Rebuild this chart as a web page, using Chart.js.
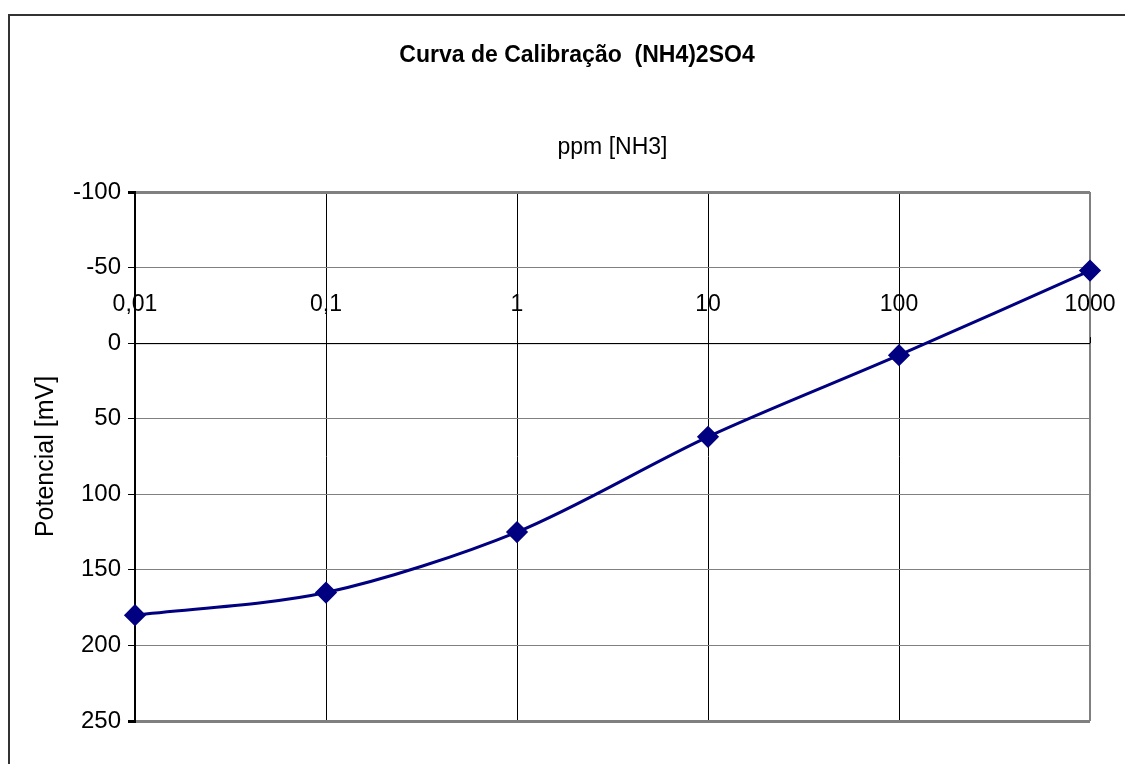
<!DOCTYPE html>
<html>
<head>
<meta charset="utf-8">
<script src="https://cdn.jsdelivr.net/npm/chart.js@4/dist/chart.umd.min.js"></script>
<style>
    body { margin: 0; background: #fff; overflow: hidden; }
    #wrap { position: relative; width: 1125px; height: 764px; overflow: hidden; }
    #frame { position: absolute; left: 8px; top: 14px; width: 1200px; height: 800px; border: 2px solid #333; }
    #chart { position: absolute; left: 0; top: 0; }
</style>
</head>
<body>
<div id="wrap">
    <div id="frame"></div>
    <canvas id="chart" width="1125" height="764"></canvas>
</div>
<script>
// dados da curva
const concentracao = [0.01, 0.1, 1, 10, 100, 1000];
const potencial = [180, 165, 125, 62, 8, -48];
const xTicks = [0.01, 0.1, 1, 10, 100, 1000];
const xTickLabels = ['0,01', '0,1', '1', '10', '100', '1000'];
const yTicks = [-100, -50, 0, 50, 100, 150, 200, 250];

const FONT = "'Liberation Sans', Arial, sans-serif";

// rótulos do eixo x desenhados sobre a linha do zero
const zeroAxisLabels = {
    id: 'zeroAxisLabels',
    beforeDatasetsDraw(chart) {
        const ctx = chart.ctx;
        const x = chart.scales.x;
        const y = chart.scales.y;
        const y0 = y.getPixelForValue(0);
        ctx.save();
        // linha do eixo em y = 0
        ctx.strokeStyle = '#000';
        ctx.lineWidth = 1;
        ctx.beginPath();
        ctx.moveTo(chart.chartArea.left, y0 + 0.5);
        ctx.lineTo(chart.chartArea.right, y0 + 0.5);
        ctx.stroke();
        ctx.font = '23px ' + FONT;
        ctx.fillStyle = '#000';
        ctx.textAlign = 'center';
        ctx.textBaseline = 'alphabetic';
        xTicks.forEach((v, i) => {
            const px = x.getPixelForValue(v);
            ctx.beginPath();
            ctx.moveTo(Math.round(px) + 0.5, y0 - 6);
            ctx.lineTo(Math.round(px) + 0.5, y0);
            ctx.stroke();
            ctx.fillText(xTickLabels[i], px, y0 - 32);
        });
        ctx.restore();
    }
};

new Chart(document.getElementById('chart'), {
    type: 'line',
    data: {
        labels: concentracao,
        datasets: [{
            data: concentracao.map((c, i) => ({ x: c, y: potencial[i] })),
            borderColor: '#000080',
            backgroundColor: '#000080',
            borderWidth: 3,
            tension: 0.3,
            pointStyle: 'rectRot',
            pointRadius: 9,
            pointHoverRadius: 9,
            clip: false
        }]
    },
    options: {
        responsive: false,
        animation: false,
        layout: { padding: { left: 64, right: 35, top: 0, bottom: 43 } },
        plugins: {
            legend: { display: false },
            tooltip: { enabled: false },
            title: {
                display: true,
                text: 'Curva de Calibração  (NH4)2SO4',
                color: '#000',
                font: { family: FONT, size: 23, weight: 'bold' },
                padding: { top: 42, bottom: 0 }
            }
        },
        scales: {
            x: {
                type: 'logarithmic',
                position: 'top',
                min: 0.01,
                max: 1000,
                afterBuildTicks: (scale) => { scale.ticks = xTicks.map(v => ({ value: v })); },
                ticks: { display: false },
                border: { display: false },
                grid: {
                    drawTicks: false,
                    color: (c) => c.tick && c.tick.value === 1000 ? '#808080' : '#000',
                    lineWidth: (c) => c.tick && c.tick.value === 1000 ? 2 : 1
                },
                title: {
                    display: true,
                    text: 'ppm [NH3]',
                    color: '#000',
                    font: { family: FONT, size: 23 },
                    padding: { top: 64, bottom: 30.8 }
                }
            },
            y: {
                reverse: true,
                min: -100,
                max: 250,
                afterBuildTicks: (scale) => { scale.ticks = yTicks.map(v => ({ value: v })); },
                afterFit: (scale) => { scale.width = 71; },
                ticks: {
                    color: '#000',
                    padding: 7,
                    font: { family: FONT, size: 24 }
                },
                border: { display: true, color: '#000', width: 2 },
                grid: {
                    tickLength: 7,
                    tickColor: '#000',
                    color: (c) => c.tick && c.tick.value === 0 ? '#000' : '#808080',
                    lineWidth: (c) => c.tick && (c.tick.value === -100 || c.tick.value === 250) ? 3 : 1
                },
                title: {
                    display: true,
                    text: 'Potencial [mV]',
                    color: '#000',
                    font: { family: FONT, size: 25 },
                    padding: { top: -33, bottom: 0 }
                }
            }
        }
    },
    plugins: [zeroAxisLabels]
});
</script>
</body>
</html>
